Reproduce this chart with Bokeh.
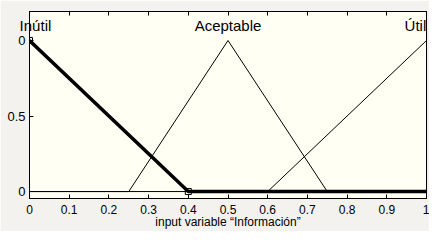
from bokeh.plotting import figure
from bokeh.models import LinearAxis, FixedTicker
from bokeh.core.properties import value
from bokeh.embed import file_html
from bokeh.resources import INLINE

# membership functions of input variable "Información"
inutil_x = [0.0, 0.4, 1.0]
inutil_y = [1.0, 0.0, 0.0]
acept_x = [0.0, 0.25, 0.5, 0.75, 1.0]
acept_y = [0.0, 0.0, 1.0, 0.0, 0.0]
util_x = [0.0, 0.6, 1.0]
util_y = [0.0, 0.0, 1.0]
marker_x = [0.0, 0.4]
marker_y = [1.0, 0.0]

mf_names = ["Inútil", "Aceptable", "Útil"]
mf_label_x = [0.015, 0.5, 0.972]
mf_label_y = [1.1, 1.1, 1.1]

x_ticks = [0.0, 0.1, 0.2, 0.3, 0.4, 0.5, 0.6, 0.7, 0.8, 0.9, 1.0]
x_tick_labels = ["0", "0.1", "0.2", "0.3", "0.4", "0.5", "0.6", "0.7", "0.8", "0.9", "1"]
y_ticks = [0.0, 0.5, 1.0]
y_tick_labels = ["0", "0.5", "0"]

FONT = "Liberation Sans"
BG = "#f4f2ee"
PLOT_BG = "#fffff4"

p = figure(width=429, height=231, x_range=(0, 1), y_range=(-0.046, 1.192),
           output_backend="svg", toolbar_location=None,
           x_axis_location=None, y_axis_location=None,
           min_border_left=29, min_border_right=3, min_border_top=11, min_border_bottom=30)
p.background_fill_color = PLOT_BG
p.border_fill_color = BG
p.outline_line_color = "black"
p.outline_line_width = 1
p.xgrid.visible = False
p.ygrid.visible = False

xb = LinearAxis(ticker=FixedTicker(ticks=x_ticks),
                major_label_overrides={t: l for t, l in zip(x_ticks, x_tick_labels)})
xb.axis_label = "input variable \u201cInformación\u201d"
xt = LinearAxis(ticker=FixedTicker(ticks=x_ticks))
yl = LinearAxis(ticker=FixedTicker(ticks=y_ticks),
                major_label_overrides={t: l for t, l in zip(y_ticks, y_tick_labels)})
for ax in (xb, xt, yl):
    ax.major_tick_in = 4
    ax.major_tick_out = 0
    ax.minor_tick_in = 0
    ax.minor_tick_out = 0
    ax.axis_line_color = "black"
    ax.major_tick_line_color = "black"
    ax.major_label_text_font = FONT
    ax.major_label_text_color = "black"
    ax.major_label_text_font_size = "12px"
    ax.major_label_standoff = 4
xt.major_label_text_font_size = "0px"
xt.major_label_standoff = 0
xb.major_label_standoff = 6
yl.major_label_text_font_size = "13px"
xb.axis_label_text_font = FONT
xb.axis_label_text_font_style = "normal"
xb.axis_label_text_font_size = "12px"
xb.axis_label_text_color = "black"
xb.axis_label_standoff = -2
p.add_layout(xb, "below")
p.add_layout(xt, "above")
p.add_layout(yl, "left")

p.line(acept_x, acept_y, line_color="black", line_width=1)
p.line(util_x, util_y, line_color="black", line_width=1)
p.line(inutil_x, inutil_y, line_color="black", line_width=3.5)
p.scatter(marker_x, marker_y, marker="square", size=6, fill_color=None,
          line_color="black", line_width=1)

p.text(x=mf_label_x, y=mf_label_y, text=mf_names, text_align="center",
       text_baseline="middle", text_font=value(FONT), text_font_size=value("15px"),
       text_color="black", level="overlay")

open("out.html", "w").write(file_html(p, INLINE))
